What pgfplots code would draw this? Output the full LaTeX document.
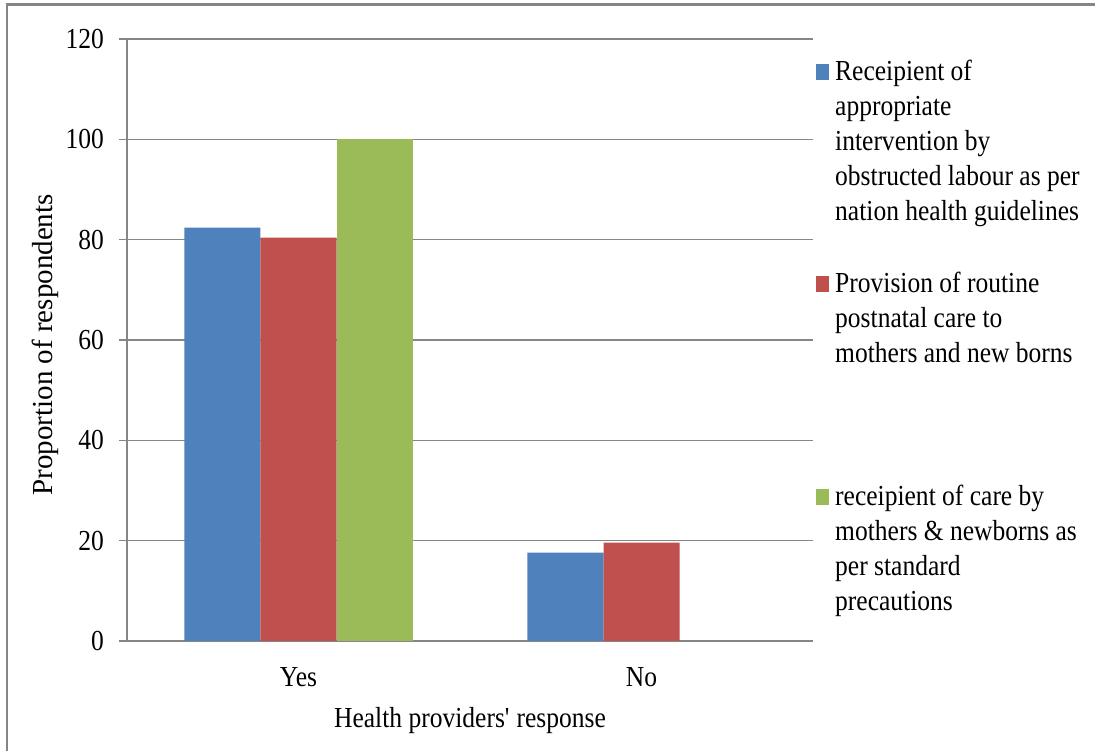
\documentclass[border=0pt]{standalone}
\usepackage{fontspec}
\setmainfont{Liberation Serif}[FakeStretch=0.88]
\newfontfamily\uprightlabel{Liberation Serif}
\usepackage{pgfplots}
\pgfplotsset{compat=1.18}

\definecolor{barblue}{RGB}{79,129,189}
\definecolor{barred}{RGB}{192,80,77}
\definecolor{bargreen}{RGB}{155,187,89}
\definecolor{gridgray}{RGB}{134,134,134}
\definecolor{framegray}{RGB}{133,133,133}

% square swatch for the legend
\pgfplotsset{sqlegend/.style={legend image code/.code={\fill[##1] (0pt,0.5pt) rectangle (13pt,16.5pt);}}}

% multi-line legend text, first line on the baseline
\newcommand{\entry}[1]{\parbox[t]{255pt}{\raggedright\fontsize{29}{35}\selectfont #1}}

\begin{document}
\begin{tikzpicture}[font=\fontsize{29}{35}\selectfont]
\useasboundingbox (0,0) rectangle (1095pt,751pt);
\fill[white] (0,0) rectangle (1095pt,751pt);
\draw[framegray, line width=2.5pt] (7pt,0pt) -- (7pt,746.3pt) -- (1095pt,746.3pt);

\begin{axis}[
  at={(127pt,110pt)}, anchor=south west,
  scale only axis, width=686pt, height=602pt,
  ybar=0pt, bar width=0.2216,
  xmin=-0.5, xmax=1.5, ymin=0, ymax=120,
  enlargelimits=false,
  xtick={0,1}, xticklabels={Yes,No},
  ytick={0,20,...,120},
  axis x line*=bottom, axis y line*=left,
  axis line style={gridgray, line width=1.2pt},
  ymajorgrids, major grid style={gridgray, line width=1.2pt},
  tick align=outside,
  major tick length=8pt,
  y tick style={gridgray, line width=1.2pt},
  x tick style={draw=none},
  /pgf/number format/assume math mode=true,
  yticklabel style={anchor=east, inner sep=0pt, xshift=-15pt},
  xticklabel style={anchor=north, inner sep=0pt, yshift=-18pt},
  xlabel={Health providers\textquotesingle\ response},
  xlabel style={at={(axis description cs:0.5,0)}, anchor=north, inner sep=0pt, yshift=-66pt},
  ylabel={Proportion of respondents},
  ylabel style={at={(axis description cs:-0.1079,0.492)}, anchor=base, inner sep=0pt,
    font=\uprightlabel\fontsize{29}{35}\selectfont},
  legend style={at={(axis description cs:1.0044,0.9668)}, anchor=north west,
    draw=none, fill=none, inner sep=0pt, row sep=0pt,
    cells={anchor=base west},
    nodes={inner sep=0pt, text height=21pt, text depth=191.5pt},
    /tikz/every odd column/.append style={column sep=6pt}},
]
\addplot[fill=barblue, draw=none, sqlegend] coordinates {(0,82.4) (1,17.6)};
\addlegendentry{\entry{Receipient of\\appropriate\\intervention by\\obstructed labour as per\\nation health guidelines}}
\addplot[fill=barred, draw=none, sqlegend] coordinates {(0,80.4) (1,19.6)};
\addlegendentry{\entry{Provision of routine\\postnatal care to\\mothers and new borns}}
\addplot[fill=bargreen, draw=none, sqlegend] coordinates {(0,100)};
\addlegendentry{\entry{receipient of care by\\mothers \& newborns as\\per standard\\precautions}}
\end{axis}
\end{tikzpicture}
\end{document}
